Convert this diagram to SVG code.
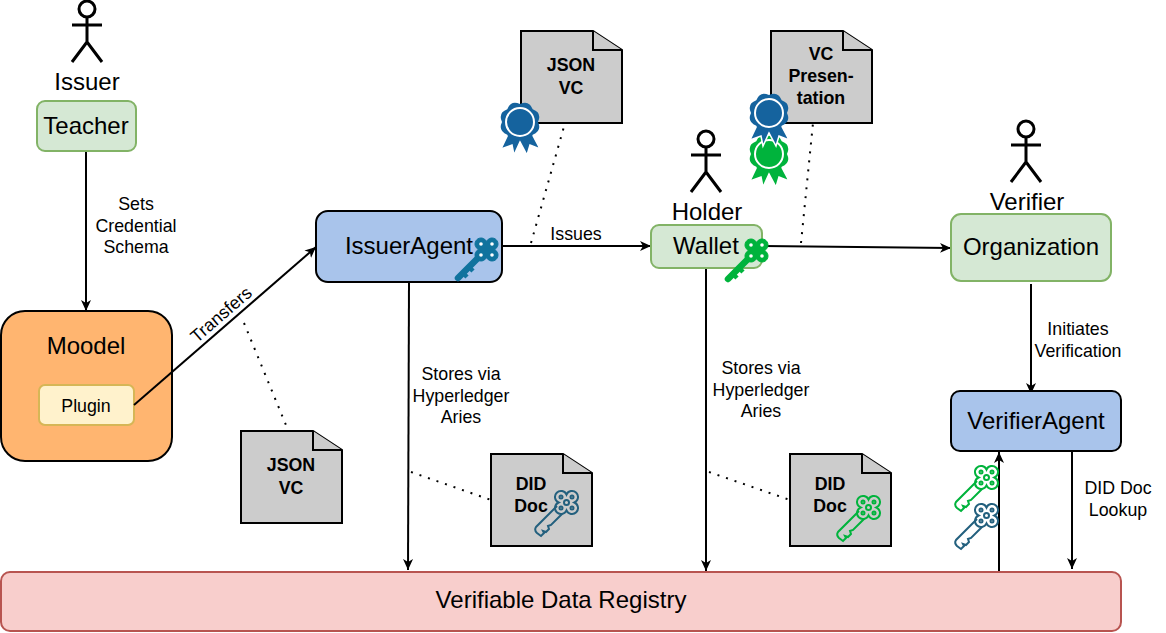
<svg xmlns="http://www.w3.org/2000/svg" width="1166" height="633" viewBox="0 0 1166 633">
<style>
text{font-family:"Liberation Sans",Arial,sans-serif;fill:#000;text-anchor:middle}
.l{font-size:17.8px}.m{font-size:24px}.b{font-size:17.8px;font-weight:bold}
.act{fill:none;stroke:#000;stroke-width:3}
.green{fill:#d5e8d4;stroke:#82b366;stroke-width:2}
.blue{fill:#a9c4eb;stroke:#000;stroke-width:2}
.doc{fill:#cccccc;stroke:#000;stroke-width:2}
.c{fill:none;stroke:#000;stroke-width:2}
.d{fill:none;stroke:#000;stroke-width:2;stroke-dasharray:2 7}
</style>
<defs>
<marker id="a" markerUnits="userSpaceOnUse" markerWidth="12" markerHeight="12" refX="11" refY="6" orient="auto"><path d="M0 1 L11 6 L0 11 L3 6Z" fill="#000"/></marker>
<g id="actor" class="act"><circle cx="0" cy="8" r="8"/><path d="M0 16V41M-15 24H15M0 41L-15 61M0 41L15 61"/></g>
<g id="doc"><path class="doc" d="M0 0H72L101 19V92H0Z"/><path class="doc" d="M72 0V19H101"/></g>
<path id="clover" d="M33.5 3.600A6 6 0 1 1 41.400 11.500A6 6 0 1 1 33.500 19.400A6 6 0 1 1 25.600 11.500A6 6 0 1 1 33.500 3.600Z"/>
<g id="keyS"><path d="M29 16L5 40" stroke-width="6.500" fill="none" stroke="currentColor" stroke-linecap="round"/><path d="M9 34l5 5M15 28l5 5" stroke-width="4.500" stroke="currentColor"/><use href="#clover" fill="currentColor" stroke="currentColor" stroke-width="1"/><g fill="#fff"><circle cx="28" cy="6" r="1.800"/><circle cx="39" cy="6" r="1.800"/><circle cx="28" cy="17" r="1.800"/><circle cx="39" cy="17" r="1.800"/></g></g>
<g id="keyO" fill="none" stroke="currentColor" stroke-width="2"><path d="M24 15L3 36Q1 39 4 42L8 45L11 42L10 40L13 41L16 38L15 35L18 34L29 23"/><use href="#clover"/><circle cx="33.500" cy="11.500" r="2.500"/><circle cx="28" cy="6" r="1.500"/><circle cx="39" cy="6" r="1.500"/><circle cx="28" cy="17" r="1.500"/><circle cx="39" cy="17" r="1.500"/></g>
<g id="badge"><path fill="currentColor" stroke="#fff" stroke-width="1.500" d="M-10 8L-19 27L-8 23L-6 33L0 20L7 33L10 23L20 27L10 8Z"/><path fill="currentColor" d="M18 0Q22.200 9.200 12.700 12.700Q9.200 22.200 0 18Q-9.200 22.200 -12.700 12.700Q-22.200 9.200 -18 0Q-22.200 -9.200 -12.700 -12.700Q-9.200 -22.200 0 -18Q9.200 -22.200 12.700 -12.700Q22.200 -9.200 18 0Z"/><circle r="14" fill="currentColor" stroke="#fff" stroke-width="2"/></g>
</defs>
<g id="moodle"><rect x="1" y="311" width="171" height="150" rx="24" fill="#ffb570" stroke="#000" stroke-width="2"/><text class="m" x="86" y="354">Moodel</text></g>
<g id="plugin"><rect x="39" y="385" width="95" height="40" rx="6" fill="#fff2cc" stroke="#d6b656" stroke-width="2"/><text class="l" x="86" y="412">Plugin</text></g>
<g id="connectors">
<path class="c" marker-end="url(#a)" d="M86 152V311"/>
<path class="c" marker-end="url(#a)" d="M134 405L316 247"/>
<path class="c" marker-end="url(#a)" d="M502 246H651"/>
<path class="c" marker-end="url(#a)" d="M763 246L951 248"/>
<path class="c" marker-end="url(#a)" d="M1031 284V394"/>
<path class="c" marker-end="url(#a)" d="M409 282L408 570"/>
<path class="c" marker-end="url(#a)" d="M706 268V571"/>
<path class="c" marker-end="url(#a)" d="M1072 451V569"/>
<path class="c" marker-end="url(#a)" d="M999 572V452"/>
<path class="d" d="M244 323L288 430"/>
<path class="d" d="M531 243L565 123"/>
<path class="d" d="M801 243L813 123"/>
<path class="d" d="M411 472L491 500"/>
<path class="d" d="M709 472L790 500"/>
</g>
<g id="issuer"><use href="#actor" x="87" y="1"/><text class="m" x="87" y="90">Issuer</text></g>
<g id="teacher"><rect class="green" x="37" y="101" width="99" height="50" rx="8"/><text class="m" x="86" y="134">Teacher</text></g>
<g id="issueragent"><rect class="blue" x="316" y="211" width="186" height="71" rx="12"/><text class="m" x="409" y="254">IssuerAgent</text><use href="#keyS" x="453" y="238" color="#10739e"/></g>
<g id="holder"><use href="#actor" x="706" y="131"/><text class="m" x="707" y="220">Holder</text></g>
<g id="wallet"><rect class="green" x="651" y="225" width="111" height="43" rx="8"/><text class="m" x="706" y="254">Wallet</text><use href="#keyS" x="723" y="239" color="#00b33c"/></g>
<g id="verifier"><use href="#actor" x="1026" y="121"/><text class="m" x="1027" y="210">Verifier</text></g>
<g id="organization"><rect class="green" x="951" y="214" width="160" height="67" rx="10"/><text class="m" x="1031" y="255">Organization</text></g>
<g id="verifieragent"><rect class="blue" x="951" y="391" width="170" height="60" rx="9"/><text class="m" x="1036" y="429">VerifierAgent</text></g>
<g id="registry"><rect x="1" y="572" width="1120" height="59" rx="9" fill="#f8cecc" stroke="#b85450" stroke-width="2"/><text class="m" x="561" y="608">Verifiable Data Registry</text></g>
<g id="doc-vc-top"><use href="#doc" x="521" y="31"/><text class="b" x="571" y="71">JSON</text><text class="b" x="571" y="94">VC</text><use href="#badge" x="520" y="122" color="#15639e"/></g>
<g id="doc-vc-presentation"><use href="#doc" x="771" y="31"/><text class="b" x="821" y="60">VC</text><text class="b" x="821" y="82">Presen-</text><text class="b" x="821" y="104">tation</text><use href="#badge" x="769" y="154" color="#00b33c"/><use href="#badge" x="769" y="113" color="#15639e"/></g>
<g id="doc-vc-bottom"><use href="#doc" x="241" y="431"/><text class="b" x="291" y="471">JSON</text><text class="b" x="291" y="494">VC</text></g>
<g id="doc-did-issuer"><use href="#doc" x="491" y="454"/><text class="b" x="531" y="490">DID</text><text class="b" x="531" y="512">Doc</text><use href="#keyO" x="533" y="491" color="#23607e"/></g>
<g id="doc-did-holder"><use href="#doc" x="790" y="454"/><text class="b" x="830" y="490">DID</text><text class="b" x="830" y="512">Doc</text><use href="#keyO" x="835" y="496" color="#00b33c"/></g>
<g id="verifier-keys"><use href="#keyO" x="953" y="466" color="#00b33c"/><use href="#keyO" x="953" y="504" color="#23607e"/></g>
<g id="labels">
<text class="l" x="136" y="210">Sets</text><text class="l" x="136" y="232">Credential</text><text class="l" x="136" y="253">Schema</text>
<text class="l" transform="translate(225 319) rotate(-41)">Transfers</text>
<text class="l" x="576" y="240">Issues</text>
<text class="l" x="461" y="380">Stores via</text><text class="l" x="461" y="402">Hyperledger</text><text class="l" x="461" y="423">Aries</text>
<text class="l" x="761" y="374">Stores via</text><text class="l" x="761" y="396">Hyperledger</text><text class="l" x="761" y="417">Aries</text>
<text class="l" x="1078" y="335">Initiates</text><text class="l" x="1078" y="357">Verification</text>
<text class="l" x="1118" y="494">DID Doc</text><text class="l" x="1118" y="516">Lookup</text>
</g>
</svg>
